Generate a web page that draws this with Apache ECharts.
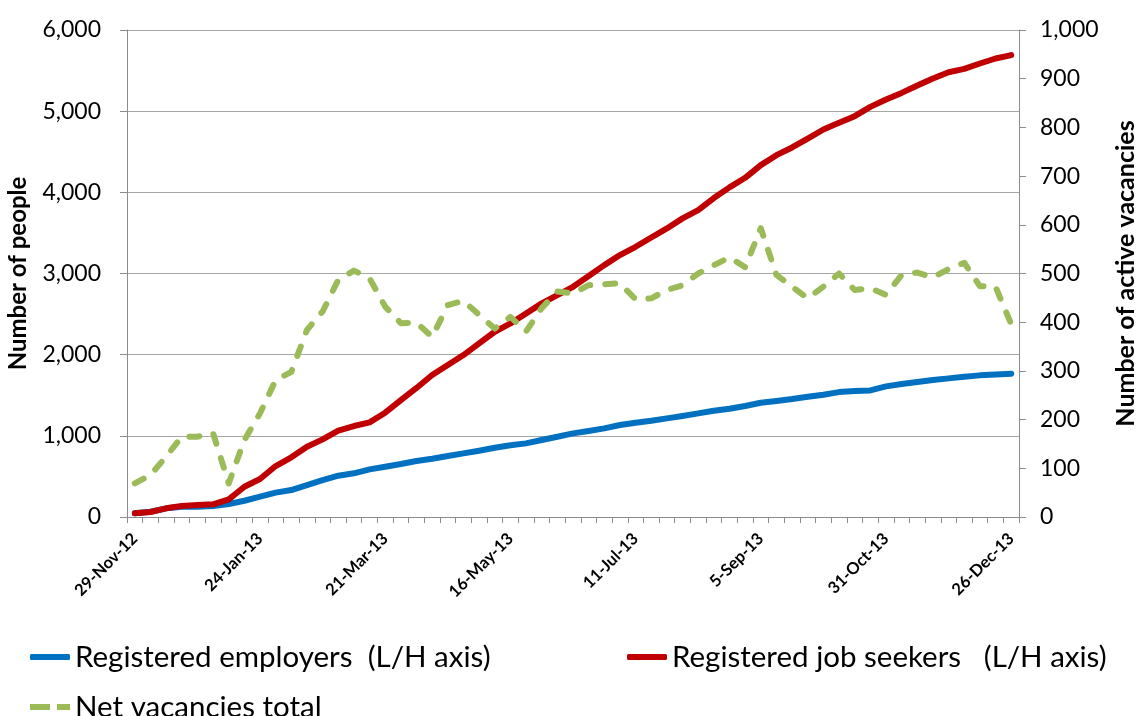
<!DOCTYPE html>
<html>
<head>
<meta charset="utf-8">
<title>Registered employers, job seekers and vacancies</title>
<script src="https://cdn.jsdelivr.net/npm/echarts@6/dist/echarts.min.js"></script>
<style>
    html, body { margin: 0; padding: 0; background: #fff; }
    #chart { width: 1137px; height: 716px; }
</style>
</head>
<body>
<div id="chart"></div>
<script>
    // weekly dates, 29-Nov-12 .. 26-Dec-13
    var weeks = ['29-Nov-12', '6-Dec-12', '13-Dec-12', '20-Dec-12', '27-Dec-12', '3-Jan-13', '10-Jan-13', '17-Jan-13',
        '24-Jan-13', '31-Jan-13', '7-Feb-13', '14-Feb-13', '21-Feb-13', '28-Feb-13', '7-Mar-13', '14-Mar-13',
        '21-Mar-13', '28-Mar-13', '4-Apr-13', '11-Apr-13', '18-Apr-13', '25-Apr-13', '2-May-13', '9-May-13',
        '16-May-13', '23-May-13', '30-May-13', '6-Jun-13', '13-Jun-13', '20-Jun-13', '27-Jun-13', '4-Jul-13',
        '11-Jul-13', '18-Jul-13', '25-Jul-13', '1-Aug-13', '8-Aug-13', '15-Aug-13', '22-Aug-13', '29-Aug-13',
        '5-Sep-13', '12-Sep-13', '19-Sep-13', '26-Sep-13', '3-Oct-13', '10-Oct-13', '17-Oct-13', '24-Oct-13',
        '31-Oct-13', '7-Nov-13', '14-Nov-13', '21-Nov-13', '28-Nov-13', '5-Dec-13', '12-Dec-13', '19-Dec-13',
        '26-Dec-13'];

    // L/H axis
    var employers = [45, 65, 107, 127, 127, 135, 160, 200, 250, 300, 332, 394, 455, 509, 538, 587, 620, 653, 690, 718,
        751, 784, 817, 854, 883, 907, 948, 989, 1030, 1059, 1092, 1133, 1162, 1186, 1215, 1244, 1277, 1309, 1334, 1367,
        1408, 1429, 1453, 1482, 1507, 1539, 1552, 1560, 1609, 1638, 1662, 1687, 1708, 1728, 1745, 1757, 1765];
    var jobSeekers = [45, 62, 107, 135, 148, 156, 218, 373, 468, 628, 735, 866, 956, 1063, 1121, 1166, 1285, 1440, 1590,
        1749, 1872, 1995, 2139, 2282, 2385, 2508, 2632, 2734, 2836, 2968, 3103, 3227, 3329, 3444, 3555, 3679, 3781,
        3930, 4061, 4179, 4335, 4458, 4553, 4663, 4774, 4856, 4938, 5053, 5144, 5225, 5316, 5402, 5480, 5521, 5587,
        5649, 5690];
    // R/H axis
    var vacancies = [69, 86, 124, 165, 165, 172, 69, 158, 213, 281, 298, 384, 422, 487, 506, 490, 432, 398, 399, 370,
        435, 444, 415, 387, 411, 381, 429, 463, 459, 476, 478, 480, 447, 449, 466, 476, 500, 517, 533, 513,
        593, 497, 473, 449, 473, 500, 466, 470, 456, 497, 502, 492, 509, 522, 474, 473, 396];

    var seriesNames = ['Registered employers  (L/H axis)', 'Registered job seekers   (L/H axis)', 'Net vacancies total'];

    var font = 'Lato, "Noto Sans", sans-serif';
    var axisGrey = '#8c8c8c';
    var colors = ['#0070c0', '#c00000', '#9bbb59'];

    function thousands(v) {
        return v.toLocaleString('en-US');
    }

    var legendText = {fontFamily: font, fontSize: 29.5, color: '#000'};
    var dashIcon = 'path://M0,0H20V6H0Z M27,0H40V6H27Z';

    var option = {
        backgroundColor: '#fff',
        animation: false,
        textStyle: {fontFamily: font},
        grid: {
            left: 127,
            right: 118,
            top: 30,
            bottom: 199,
            containLabel: false,
            outerBoundsMode: 'none'
        },
        legend: [{
            data: [{name: seriesNames[0], icon: 'roundRect'}],
            left: 25, top: 637,
            itemWidth: 40, itemHeight: 6, itemGap: 0,
            textStyle: legendText
        }, {
            data: [{name: seriesNames[1], icon: 'roundRect'}],
            left: 622, top: 637,
            itemWidth: 40, itemHeight: 6, itemGap: 0,
            textStyle: legendText
        }, {
            data: [{name: seriesNames[2], icon: dashIcon}],
            left: 25, top: 687,
            itemWidth: 40, itemHeight: 6, itemGap: 0,
            textStyle: legendText
        }],
        xAxis: {
            type: 'category',
            data: weeks,
            boundaryGap: true,
            axisLine: {lineStyle: {color: axisGrey}},
            axisTick: {show: true, interval: 0, length: 6, lineStyle: {color: axisGrey}},
            axisLabel: {
                interval: 7,
                rotate: 45,
                margin: 19,
                fontFamily: font,
                fontSize: 16.5,
                fontWeight: 'bold',
                color: '#000'
            },
            splitLine: {show: false}
        },
        yAxis: [{
            type: 'value',
            min: 0,
            max: 6000,
            interval: 1000,
            name: 'Number of people',
            nameLocation: 'middle',
            nameRotate: 90,
            nameGap: 97,
            nameTextStyle: {fontFamily: font, fontSize: 24, fontWeight: 'bold', color: '#000'},
            axisLine: {show: true, lineStyle: {color: axisGrey}},
            axisTick: {show: true, length: 7, lineStyle: {color: axisGrey}},
            axisLabel: {formatter: thousands, margin: 26, fontFamily: font, fontSize: 23, color: '#000'},
            splitLine: {lineStyle: {color: '#a6a6a6', width: 1}}
        }, {
            type: 'value',
            position: 'right',
            min: 0,
            max: 1000,
            interval: 100,
            name: 'Number of active vacancies',
            nameLocation: 'middle',
            nameRotate: 90,
            nameGap: 94,
            nameTextStyle: {fontFamily: font, fontSize: 25, fontWeight: 'bold', color: '#000'},
            axisLine: {show: true, lineStyle: {color: axisGrey}},
            axisTick: {show: true, length: 7, lineStyle: {color: axisGrey}},
            axisLabel: {formatter: thousands, margin: 21, fontFamily: font, fontSize: 23, color: '#000'},
            splitLine: {show: false}
        }],
        series: [{
            name: seriesNames[0],
            type: 'line',
            yAxisIndex: 0,
            data: employers,
            symbol: 'none',
            z: 3,
            itemStyle: {color: colors[0]},
            lineStyle: {color: colors[0], width: 6, cap: 'round', join: 'round'}
        }, {
            name: seriesNames[1],
            type: 'line',
            yAxisIndex: 0,
            data: jobSeekers,
            symbol: 'none',
            z: 4,
            itemStyle: {color: colors[1]},
            lineStyle: {color: colors[1], width: 6, cap: 'round', join: 'round'}
        }, {
            name: seriesNames[2],
            type: 'line',
            yAxisIndex: 1,
            data: vacancies,
            symbol: 'none',
            z: 5,
            itemStyle: {color: colors[2]},
            lineStyle: {color: colors[2], width: 6, type: [10, 15], cap: 'round', join: 'round'}
        }]
    };

    var myChart = echarts.init(document.getElementById('chart'));
    myChart.setOption(option);
</script>
</body>
</html>
